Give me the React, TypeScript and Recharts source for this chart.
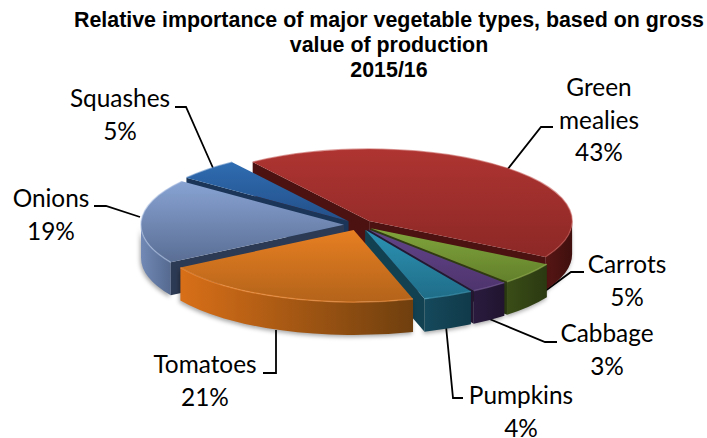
import { Pie, PieChart } from "recharts";

const categories = ["Green mealies", "Carrots", "Cabbage", "Pumpkins", "Tomatoes", "Onions", "Squashes"];
const shares = [43, 5, 3, 4, 21, 19, 5];
const drawOrder = ["Green mealies", "Squashes", "Onions", "Carrots", "Cabbage", "Pumpkins", "Tomatoes"];
const titleLines = ["Relative importance of major vegetable types, based on gross", "value of production", "2015/16"];

const topLight = ["#ae3431", "#82a53c", "#624489", "#2c93b4", "#e77f22", "#88a3d3", "#2f6db2"];
const topDark = ["#8c2826", "#62802b", "#4e346e", "#1f6d88", "#b3631a", "#5a6e94", "#234f88"];
const wallLight = ["#571614", "#3a4d17", "#2a1b3e", "#15495c", "#d86f18", "#7189b5", "#1d3b62"];
const wallDark = ["#3f0f0e", "#2b3911", "#20142f", "#103a4a", "#6f3f0e", "#566a90", "#16304f"];
const cutColor = ["#4b1211", "#2d3c12", "#241735", "#124252", "#6f3f0e", "#2d3a53", "#1a3558"];
const rim = ["#c0504d", "#9bbb59", "#8064a2", "#4bacc6", "#f79646", "#a9bde0", "#4f81bd"];

const rows = categories.map((name, i) => ({ name, value: shares[i] }));

const labels = [
  { lines: ["Green", "mealies", "43%"], x: 599, y: 96, leader: "553,127 541,127 507,170" },
  { lines: ["Carrots", "5%"], x: 627, y: 273, leader: "584,272 571,272 530,302" },
  { lines: ["Cabbage", "3%"], x: 607, y: 342, leader: "557,342 545,342 487,318" },
  { lines: ["Pumpkins", "4%"], x: 521, y: 404, leader: "463,398 453,398 446,326" },
  { lines: ["Tomatoes", "21%"], x: 205, y: 373, leader: "263,373 276,373 276,330" },
  { lines: ["Onions", "19%"], x: 51, y: 207, leader: "94,206 106,206 140,217" },
  { lines: ["Squashes", "5%"], x: 120, y: 107, leader: "175,107 186,107 213,168" },
];

const tilt = 0.355;
const depth = 33;
const explode = 15;
const rad = Math.PI / 180;

function Slice(props: any) {
  const { cx, cy, outerRadius: rx, startAngle, endAngle, name } = props;
  const i = categories.indexOf(name);
  const ry = rx * tilt;
  // recharts angles run counter-clockwise from 3 o'clock, clockwise from 12 is easier here
  const a0 = 90 - startAngle;
  const a1 = 90 - endAngle;
  const mid = (a0 + a1) / 2;
  const ox = cx + explode * Math.sin(mid * rad);
  const oy = cy - explode * tilt * Math.cos(mid * rad);
  const pt = (a: number, dy = 0) => `${ox + rx * Math.sin(a * rad)} ${oy - ry * Math.cos(a * rad) + dy}`;
  const arc = (from: number, to: number, dy = 0) => `A ${rx} ${ry} 0 0 ${to > from ? 1 : 0} ${pt(to, dy)}`;

  // only the front half of the rim shows
  const w0 = Math.max(a0, 90);
  const w1 = Math.min(a1, 270);
  const showRim = w1 > w0;
  const showStart = Math.cos((a0 - 90) * rad) < 0;
  const showEnd = Math.cos((a1 + 90) * rad) < 0;

  return (
    <g>
      {showRim && (
        <path
          d={`M ${pt(w0)} ${arc(w0, w1)} L ${pt(w1, depth)} ${arc(w1, w0, depth)} Z`}
          fill={`url(#wall${i})`}
          style={{ filter: "drop-shadow(-1px 2px 2px rgba(0,0,0,0.35))" }}
        />
      )}
      {showStart && <path d={`M ${ox} ${oy} L ${pt(a0)} L ${pt(a0, depth)} L ${ox} ${oy + depth} Z`} fill={cutColor[i]} />}
      {showEnd && <path d={`M ${ox} ${oy} L ${pt(a1)} L ${pt(a1, depth)} L ${ox} ${oy + depth} Z`} fill={cutColor[i]} />}
      <path d={`M ${ox} ${oy} L ${pt(a0)} ${arc(a0, a1)} Z`} fill={`url(#top${i})`} />
      <path d={`M ${pt(a0)} ${arc(a0, a1)}`} fill="none" stroke={rim[i]} strokeOpacity={0.55} strokeWidth={1.5} />
    </g>
  );
}

export default function App() {
  return (
    <div style={{ position: "absolute", left: 0, top: 0, width: 707, height: 438, background: "#fff" }}>
      <PieChart width={707} height={438} margin={{ top: 0, right: 0, bottom: 0, left: 0 }}>
        <defs>
          {categories.map((name, i) => (
            <linearGradient key={`top${name}`} id={`top${i}`} x1="0" x2="0" y1="0" y2="1">
              <stop offset="0%" stopColor={topLight[i]} />
              <stop offset="100%" stopColor={topDark[i]} />
            </linearGradient>
          ))}
          {categories.map((name, i) => (
            <linearGradient key={`wall${name}`} id={`wall${i}`} x1="0" x2="1" y1="0" y2="0">
              <stop offset="0%" stopColor={wallLight[i]} />
              <stop offset="100%" stopColor={wallDark[i]} />
            </linearGradient>
          ))}
        </defs>
        {drawOrder.map((layer) => (
          <Pie
            key={layer}
            data={rows}
            dataKey="value"
            nameKey="name"
            cx={359}
            cy={225}
            innerRadius={0}
            outerRadius={203}
            startAngle={125}
            endAngle={-235}
            paddingAngle={0}
            stroke="none"
            isAnimationActive={false}
            shape={(props: any) => (props.name === layer ? <Slice {...props} /> : <g />)}
          />
        ))}
        {labels.map((l) => (
          <polyline key={l.lines[0]} points={l.leader} fill="none" stroke="#000" strokeWidth={1.8} />
        ))}
        {labels.map((l) => (
          <text key={l.lines[0]} textAnchor="middle" fontFamily="Lato, sans-serif" fontSize={24.4} fill="#000">
            {l.lines.map((line, n) => (
              <tspan key={line} x={l.x} y={l.y + n * 32.7}>
                {line}
              </tspan>
            ))}
          </text>
        ))}
        <text textAnchor="middle" fontFamily="Liberation Sans, Arial, sans-serif" fontWeight="bold" fontSize={21.4} fill="#000">
          {titleLines.map((line, n) => (
            <tspan key={line} x={389} y={27 + n * 25}>
              {line}
            </tspan>
          ))}
        </text>
      </PieChart>
    </div>
  );
}
